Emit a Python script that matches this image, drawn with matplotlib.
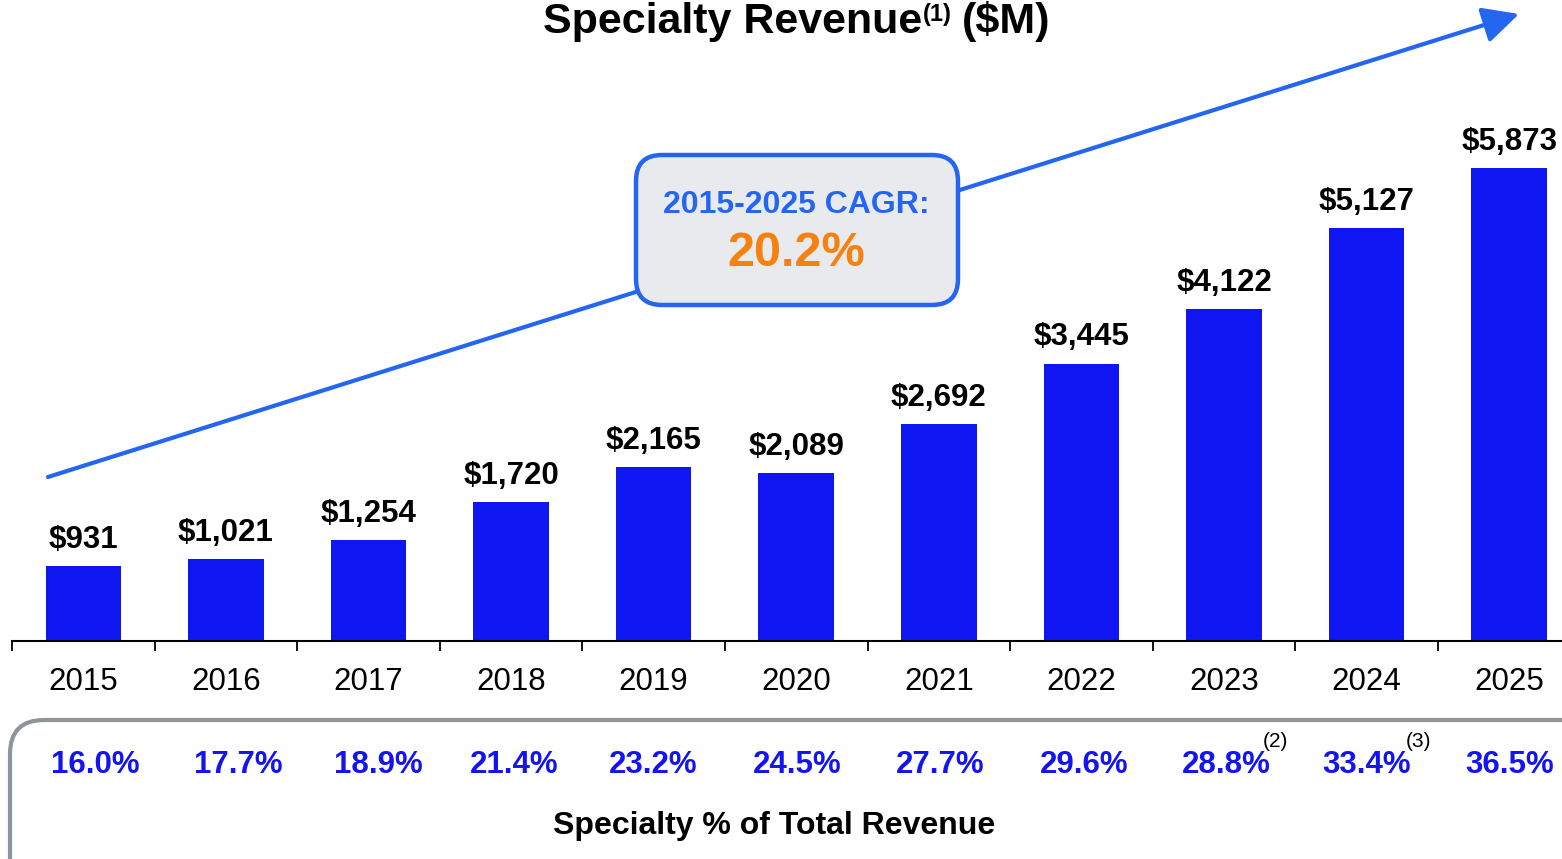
import numpy as np
import matplotlib
matplotlib.use("Agg")
import matplotlib.pyplot as plt
from matplotlib.patches import FancyBboxPatch
from matplotlib.transforms import blended_transform_factory, offset_copy

plt.rcParams['font.family'] = ['Liberation Sans', 'DejaVu Sans']

# data
years = ['2015', '2016', '2017', '2018', '2019', '2020', '2021', '2022', '2023', '2024', '2025']
revenue = [931, 1021, 1254, 1720, 2165, 2089, 2692, 3445, 4122, 5127, 5873]
share = ['16.0%', '17.7%', '18.9%', '21.4%', '23.2%', '24.5%', '27.7%', '29.6%', '28.8%', '33.4%', '36.5%']
share_notes = {8: '(2)', 9: '(3)'}
cagr_label = '2015-2025 CAGR:'
cagr_value = '20.2%'

# small horizontal nudges (px) of the share labels, as placed in the original slide
share_dx = [12, 12, 10, 3, 0, 1, 1, 3, 2, 0, 0]

BAR = '#0F16F2'
ARROW = '#2466F0'
ORANGE = '#F58210'
PCT = '#1414F0'

W, H = 1562, 859
fig = plt.figure(figsize=(W / 100, H / 100), dpi=100)

# bar axes, baseline at y=641 px
ax = fig.add_axes([12 / W, 218 / H, (W - 12) / W, 523.5 / H])
x = np.arange(len(years))
ax.bar(x, revenue, width=0.53, color=BAR, zorder=2)
for s in ['top', 'right', 'left']:
    ax.spines[s].set_visible(False)
ax.spines['bottom'].set_linewidth(1.5)
ax.set_yticks([])
ax.set_xticks(np.arange(-0.5, 10, 1))
ax.set_xticklabels([])
ax.tick_params(axis='x', which='major', length=7.5, width=1.3, direction='out')
ax.set_xticks(x, minor=True)
ax.set_xticklabels(years, minor=True, fontsize=22.5)
ax.tick_params(axis='x', which='minor', length=0, pad=19)
ax.set_xlim(-0.5, 10.37)
ax.set_ylim(0, 6500)

for i, v in enumerate(revenue):
    ax.annotate(f'${v:,}', (i, v), xytext=(0, 8), textcoords='offset points',
                ha='center', va='bottom', fontsize=22.5, fontweight='bold', color='black')

# overlay in pixel coordinates
ov = fig.add_axes([0, 0, 1, 1])
ov.set_xlim(0, W)
ov.set_ylim(H, 0)
ov.axis('off')
ov.patch.set_alpha(0)

# title
ov.text(922, 22, 'Specialty Revenue', ha='right', va='center', fontsize=31, fontweight='bold')
ov.text(923, 15, '(1)', ha='left', va='center', fontsize=17, fontweight='bold')
ov.text(962, 22, '($M)', ha='left', va='center', fontsize=31, fontweight='bold')

# CAGR arrow
ov.annotate('', xy=(1519, 14), xytext=(48, 477),
            arrowprops=dict(arrowstyle='-|>,head_length=1.0,head_width=0.5', mutation_scale=22,
                            color=ARROW, lw=3, shrinkA=0, shrinkB=0), zorder=3)

box = FancyBboxPatch((636, 155), 322, 150, boxstyle='round,pad=0,rounding_size=26',
                     fc='#E8EAED', ec=ARROW, lw=3.2, zorder=4)
ov.add_patch(box)
ov.text(796, 205, cagr_label, ha='center', va='center', fontsize=23, fontweight='bold',
        color=ARROW, zorder=5)
ov.text(796, 253, cagr_value, ha='center', va='center', fontsize=35, fontweight='bold',
        color=ORANGE, zorder=5)

# bottom panel with share of total revenue
panel = FancyBboxPatch((10, 720), 1640, 220, boxstyle='round,pad=0,rounding_size=34',
                       fc='none', ec='#8E959A', lw=3, zorder=1)
ov.add_patch(panel)

trans = blended_transform_factory(ax.transData, ov.transData)
for i, s in enumerate(share):
    t = offset_copy(trans, fig=fig, x=share_dx[i], y=0, units='dots')
    ov.text(i, 765, s, transform=t, ha='center', va='center', fontsize=22.5,
            fontweight='bold', color=PCT)
    if i in share_notes:
        ov.annotate(share_notes[i], (i, 765), xycoords=trans, xytext=(28, 17),
                    textcoords='offset points', ha='left', va='center', fontsize=15, color='black')
ov.text(774, 826, 'Specialty % of Total Revenue', ha='center', va='center', fontsize=23,
        fontweight='bold', color='black')

fig.savefig('out.png', dpi=100)
